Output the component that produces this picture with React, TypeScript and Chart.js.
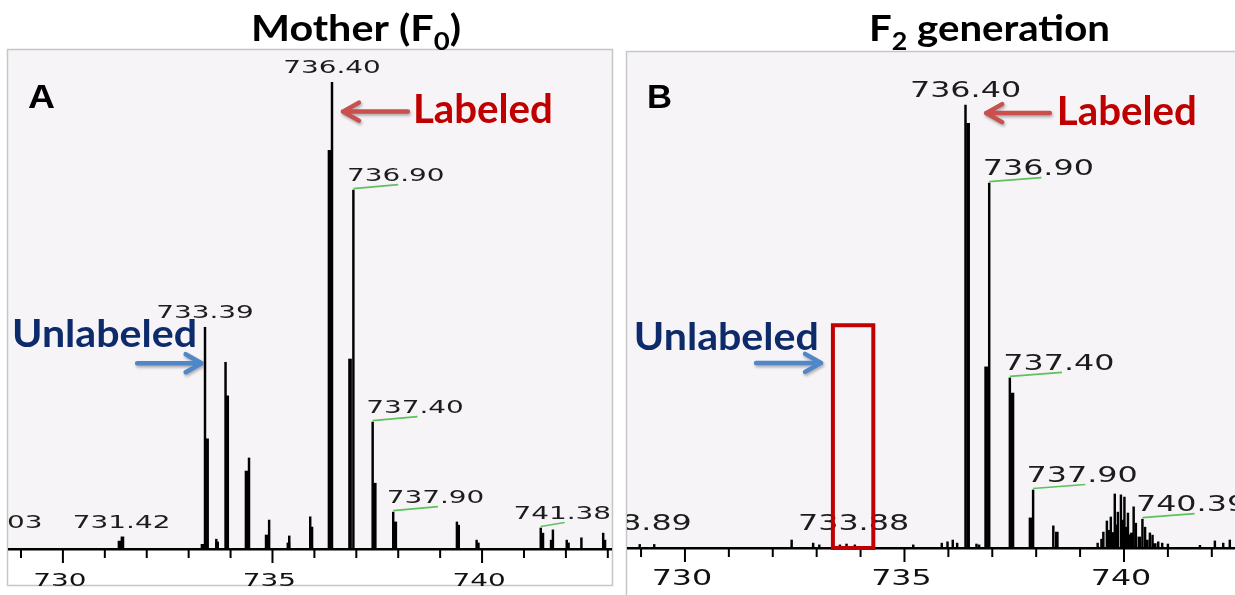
import React, { useEffect, useRef } from "react";
import { Chart, registerables } from "chart.js";
Chart.register(...registerables);

// ---------------- data: panel A (Mother, F0) ----------------
const A_MAIN_MZ = [733.39, 733.66, 733.88, 734.44, 734.92, 735.40, 735.90, 736.42, 736.93, 737.39, 737.88, 739.40, 739.87, 741.40, 741.69, 742.02, 742.37, 742.89];
const A_MAIN_INT = [47.5, 2.1, 40.0, 19.5, 6.2, 2.8, 6.9, 100, 76.9, 27.2, 7.9, 5.8, 1.9, 4.5, 4.1, 1.9, 2.4, 3.4];
const A_SHOULDER_MZ = [731.35, 731.42, 733.33, 733.44, 733.68, 733.92, 734.38, 734.86, 735.38, 735.93, 736.36, 736.85, 737.44, 737.93, 739.43, 739.90, 741.44, 741.66, 742.05, 742.92];
const A_SHOULDER_INT = [1.7, 2.6, 1.0, 23.6, 1.5, 32.8, 16.7, 3.0, 1.3, 4.7, 85.4, 40.7, 14.1, 5.8, 5.1, 1.3, 3.4, 1.9, 1.3, 1.9];
const A_LABEL_TEXT = ["728.03", "731.42", "733.39", "736.40", "736.90", "737.40", "737.90", "741.38"];
const A_LABEL_MZ = [728.35, 731.40, 733.39, 736.42, 736.93, 737.39, 737.88, 741.40];
const A_LABEL_INT = [2.6, 2.6, 47.5, 100, 76.9, 27.2, 7.9, 4.5];
const A_LABEL_LEADER = [false, false, false, false, true, true, true, true];
const A_TICKS = [729, 730, 731, 732, 733, 734, 735, 736, 737, 738, 739, 740, 741, 742, 743];

// ---------------- data: panel B (F2 generation) ----------------
const B_MAIN_MZ = [728.97, 729.30, 732.43, 732.92, 733.06, 733.53, 733.68, 733.87, 735.20, 735.85, 735.98, 736.10, 736.20, 736.39, 736.64, 736.70, 736.93, 737.40, 737.93, 738.39, 739.40, 739.53, 739.61, 739.70, 739.79, 739.86, 739.93, 740.01, 740.09, 740.22, 740.27, 740.42, 740.48, 740.59, 740.65, 740.78, 740.87, 741.00, 741.73, 742.07, 742.26, 742.41];
const B_MAIN_INT = [0.8, 0.8, 1.8, 1.1, 0.7, 0.7, 0.9, 0.7, 0.7, 1.1, 1.4, 1.8, 1.1, 100, 0.9, 0.7, 82.4, 38.4, 13.1, 5.0, 1.1, 3.6, 6.1, 7.0, 12.2, 8.1, 12.0, 11.5, 7.9, 9.3, 5.6, 6.5, 4.7, 3.4, 2.9, 1.4, 1.1, 0.9, 0.6, 1.6, 1.1, 1.8];
const B_SHOULDER_MZ = [736.45, 736.86, 737.46, 737.87, 738.47, 739.50, 739.65, 739.75, 739.83, 739.97, 740.05, 740.14, 740.18, 740.35, 740.52, 740.70];
const B_SHOULDER_INT = [95.9, 40.9, 35.0, 6.8, 3.6, 2.0, 4.0, 3.5, 5.2, 6.3, 4.7, 3.0, 3.4, 2.5, 1.8, 1.0];
const B_LABEL_TEXT = ["728.89", "733.88", "736.40", "736.90", "737.40", "737.90", "740.39"];
const B_LABEL_MZ = [728.89, 733.84, 736.39, 736.93, 737.40, 737.93, 740.42];
const B_LABEL_INT = [2.2, 2.2, 100, 82.4, 38.4, 13.1, 6.5];
const B_LABEL_LEADER = [false, false, false, true, true, true, true];
const B_TICKS = [729, 730, 731, 732, 733, 734, 735, 736, 737, 738, 739, 740, 741, 742];
const B_BOX_MZ = [733.37, 734.29];
const B_BOX_INT = [0, 50.3];

const MAJOR_TICKS = [730, 735, 740];

const LABEL_FONT = '"DejaVu Sans", sans-serif';
const ANNOT_FONT = 'Lato, "Open Sans", sans-serif';

type Ann = {
  labeledTail: [number, number];
  labeledTip: [number, number];
  labeledText: [number, number];
  unlabeledTail: [number, number];
  unlabeledTip: [number, number];
  unlabeledText: [number, number];
};

type Panel = {
  id: string;
  left: number;
  width: number;
  pad: { left: number; right: number; top: number; bottom: number };
  xMin: number;
  xMax: number;
  yMax: number;
  mainMz: number[];
  mainInt: number[];
  shMz: number[];
  shInt: number[];
  labelText: string[];
  labelMz: number[];
  labelInt: number[];
  labelLeader: boolean[];
  ticks: number[];
  fontPx: number;
  gap: number;
  frameBottom: number;
  title: [string, boolean][];
  titleLeft: number;
  titleWidth: number;
  letter: string;
  letterWidth: number;
  ann: Ann;
  box?: { mz: number[]; int: number[] };
};

const PANEL_A: Panel = {
  id: "A",
  left: 0,
  width: 620,
  pad: { left: 8, right: 8, top: 50, bottom: 46 },
  xMin: 728.69,
  xMax: 743.1,
  yMax: 106.9,
  mainMz: A_MAIN_MZ,
  mainInt: A_MAIN_INT,
  shMz: A_SHOULDER_MZ,
  shInt: A_SHOULDER_INT,
  labelText: A_LABEL_TEXT,
  labelMz: A_LABEL_MZ,
  labelInt: A_LABEL_INT,
  labelLeader: A_LABEL_LEADER,
  ticks: A_TICKS,
  fontPx: 18,
  gap: 9,
  frameBottom: 586,
  title: [["Mother (F", false], ["0", true], [")", false]],
  titleLeft: 251,
  titleWidth: 210,
  letter: "A",
  letterWidth: 27,
  ann: {
    labeledTail: [738.23, 93.7],
    labeledTip: [736.68, 93.7],
    labeledText: [738.35, 91.2],
    unlabeledTail: [731.77, 39.8],
    unlabeledTip: [733.31, 39.8],
    unlabeledText: [733.2, 43.3],
  },
};

const PANEL_B: Panel = {
  id: "B",
  left: 620,
  width: 640,
  pad: { left: 7, right: 10, top: 52, bottom: 47 },
  xMin: 728.68,
  xMax: 742.87,
  yMax: 112,
  mainMz: B_MAIN_MZ,
  mainInt: B_MAIN_INT,
  shMz: B_SHOULDER_MZ,
  shInt: B_SHOULDER_INT,
  labelText: B_LABEL_TEXT,
  labelMz: B_LABEL_MZ,
  labelInt: B_LABEL_INT,
  labelLeader: B_LABEL_LEADER,
  ticks: B_TICKS,
  fontPx: 20.5,
  gap: 8,
  frameBottom: 620,
  title: [["F", false], ["2", true], [" generation", false]],
  titleLeft: 249,
  titleWidth: 241,
  letter: "B",
  letterWidth: 25,
  ann: {
    labeledTail: [738.31, 98.2],
    labeledTip: [736.86, 98.2],
    labeledText: [738.47, 95.5],
    unlabeledTail: [731.62, 41.8],
    unlabeledTip: [733.1, 41.8],
    unlabeledText: [733.05, 44.7],
  },
  box: { mz: B_BOX_MZ, int: B_BOX_INT },
};

const SX = 1.55;

function drawText(
  ctx: CanvasRenderingContext2D,
  text: string,
  x: number,
  y: number,
  font: string,
  color: string,
  opts: { sx?: number; width?: number; align?: "left" | "center" | "right" }
) {
  ctx.save();
  ctx.font = font;
  const nat = ctx.measureText(text).width;
  const sx = opts.width ? opts.width / nat : opts.sx ?? 1;
  const w = nat * sx;
  const align = opts.align ?? "left";
  const left = align === "center" ? x - w / 2 : align === "right" ? x - w : x;
  ctx.translate(left, y);
  ctx.scale(sx, 1);
  ctx.fillStyle = color;
  ctx.textAlign = "left";
  ctx.textBaseline = "alphabetic";
  ctx.fillText(text, 0, 0);
  ctx.restore();
  return w;
}

function drawArrow(ctx: CanvasRenderingContext2D, x1: number, y1: number, x2: number, y2: number, color: string) {
  ctx.save();
  ctx.strokeStyle = color;
  ctx.lineWidth = 4.5;
  ctx.lineCap = "round";
  ctx.lineJoin = "round";
  ctx.shadowColor = "rgba(0,0,0,0.3)";
  ctx.shadowBlur = 3;
  ctx.shadowOffsetX = 1;
  ctx.shadowOffsetY = 2;
  const dir = Math.sign(x2 - x1);
  ctx.beginPath();
  ctx.moveTo(x1, y1);
  ctx.lineTo(x2, y2);
  ctx.moveTo(x2 - dir * 16, y2 - 9);
  ctx.lineTo(x2, y2);
  ctx.lineTo(x2 - dir * 16, y2 + 9);
  ctx.stroke();
  ctx.restore();
}

function makePlugin(p: Panel) {
  return {
    id: "spectrum" + p.id,
    beforeDraw(chart: any) {
      const ctx: CanvasRenderingContext2D = chart.ctx;
      const a = chart.chartArea;
      ctx.save();
      ctx.fillStyle = "#ffffff";
      ctx.fillRect(0, 0, chart.width, chart.height);
      ctx.fillStyle = "#f6f4f7";
      ctx.fillRect(a.left, a.top, a.right - a.left, a.bottom - a.top);
      ctx.strokeStyle = "#c6c6c6";
      ctx.lineWidth = 1.5;
      ctx.strokeRect(a.left - 0.5, a.top - 0.5, a.right - a.left + 1, p.frameBottom - a.top);
      ctx.restore();
    },
    afterDatasetsDraw(chart: any) {
      const ctx: CanvasRenderingContext2D = chart.ctx;
      const a = chart.chartArea;
      const xs = chart.scales.x;
      const ys = chart.scales.y;
      const y0 = ys.getPixelForValue(0);
      const labelFont = `${p.fontPx}px ${LABEL_FONT}`;

      // axis line & ticks
      ctx.save();
      ctx.fillStyle = "#000";
      ctx.fillRect(a.left, y0 - 1, a.right - a.left, 2.5);
      for (const t of p.ticks) {
        const px = xs.getPixelForValue(t);
        const major = MAJOR_TICKS.includes(t);
        ctx.fillRect(px - 1, y0, 2, major ? 14 : 9);
      }
      ctx.restore();
      for (const t of MAJOR_TICKS) {
        const px = xs.getPixelForValue(t);
        drawText(ctx, String(t), px - 3, y0 + 36.5, labelFont, "#111", { sx: SX, align: "center" });
      }

      // peak labels
      ctx.save();
      ctx.beginPath();
      ctx.rect(a.left, 0, a.right - a.left, a.bottom);
      ctx.clip();
      p.labelText.forEach((text, i) => {
        const px = xs.getPixelForValue(p.labelMz[i]);
        const py = ys.getPixelForValue(p.labelInt[i]);
        if (!p.labelLeader[i]) {
          drawText(ctx, text, px, py - p.gap, labelFont, "#1c1c1c", { sx: SX, align: "center" });
        } else {
          ctx.font = labelFont;
          const w = ctx.measureText(text).width * SX;
          const intW = ctx.measureText(text.split(".")[0]).width * SX;
          let left = px - 6.5;
          if (left + w > a.right - 1) left = a.right - 1 - w;
          drawText(ctx, text, left, py - p.gap, labelFont, "#1c1c1c", { sx: SX, align: "left" });
          ctx.save();
          ctx.strokeStyle = "#5cc25c";
          ctx.lineWidth = 1.7;
          ctx.beginPath();
          ctx.moveTo(px, py - 1.5);
          ctx.lineTo(left + intW - 2, py - 5.5);
          ctx.stroke();
          ctx.restore();
        }
      });
      ctx.restore();

      // highlight box
      if (p.box) {
        const bx1 = xs.getPixelForValue(p.box.mz[0]);
        const bx2 = xs.getPixelForValue(p.box.mz[1]);
        const by1 = ys.getPixelForValue(p.box.int[1]);
        const by2 = ys.getPixelForValue(p.box.int[0]);
        ctx.save();
        ctx.strokeStyle = "#c00000";
        ctx.lineWidth = 4;
        ctx.strokeRect(bx1, by1, bx2 - bx1, by2 - by1);
        ctx.restore();
      }

      // annotations
      const an = p.ann;
      const P = (v: [number, number]) => [xs.getPixelForValue(v[0]), ys.getPixelForValue(v[1])];
      const [lt1, lt2] = P(an.labeledTail);
      const [lp1, lp2] = P(an.labeledTip);
      drawArrow(ctx, lt1, lt2, lp1, lp2, "#c9504d");
      const [lx, ly] = P(an.labeledText);
      drawText(ctx, "Labeled", lx, ly, `bold 41px ${ANNOT_FONT}`, "#c00000", { width: 140, align: "left" });
      const [ut1, ut2] = P(an.unlabeledTail);
      const [up1, up2] = P(an.unlabeledTip);
      drawArrow(ctx, ut1, ut2, up1, up2, "#4f87c8");
      const [ux, uy] = P(an.unlabeledText);
      drawText(ctx, "Unlabeled", ux, uy, `bold 38px ${ANNOT_FONT}`, "#0d2a6b", { width: 185, align: "right" });

      // panel letter
      drawText(ctx, p.letter, a.left + 20, 108, `bold 34px "Liberation Sans", Arial, sans-serif`, "#000", {
        width: p.letterWidth,
        align: "left",
      });

      // title with subscript
      ctx.save();
      const mainF = `bold 36px ${ANNOT_FONT}`;
      const subF = `bold 24px ${ANNOT_FONT}`;
      let nat = 0;
      for (const [t, s] of p.title) {
        ctx.font = s ? subF : mainF;
        nat += ctx.measureText(t).width;
      }
      const sx = p.titleWidth / nat;
      ctx.translate(p.titleLeft, 41);
      ctx.scale(sx, 1);
      ctx.fillStyle = "#000";
      ctx.textBaseline = "alphabetic";
      let cx = 0;
      for (const [t, s] of p.title) {
        ctx.font = s ? subF : mainF;
        ctx.fillText(t, cx, s ? 9 : 0);
        cx += ctx.measureText(t).width;
      }
      ctx.restore();
    },
  };
}

function SpectrumPanel({ p }: { p: Panel }) {
  const ref = useRef<HTMLCanvasElement | null>(null);
  useEffect(() => {
    if (!ref.current) return;
    const chart = new Chart(ref.current, {
      type: "bar",
      data: {
        datasets: [
          {
            data: p.mainMz.map((x, i) => ({ x, y: p.mainInt[i] })),
            backgroundColor: "#000",
            borderWidth: 0,
            barThickness: 1.8,
            grouped: false,
          } as any,
          {
            data: p.shMz.map((x, i) => ({ x, y: p.shInt[i] })),
            backgroundColor: "#000",
            borderWidth: 0,
            barThickness: 3,
            grouped: false,
          } as any,
        ],
      },
      options: {
        responsive: false,
        animation: false,
        devicePixelRatio: 1,
        layout: { padding: p.pad },
        scales: {
          x: { type: "linear", min: p.xMin, max: p.xMax, display: false, offset: false },
          y: { min: 0, max: p.yMax, display: false },
        },
        plugins: { legend: { display: false }, tooltip: { enabled: false }, title: { display: false } },
      } as any,
      plugins: [makePlugin(p)],
    });
    return () => chart.destroy();
  }, [p]);
  return (
    <canvas
      ref={ref}
      width={p.width}
      height={595}
      style={{ position: "absolute", left: p.left, top: 0, width: p.width, height: 595 }}
    />
  );
}

export default function App() {
  return (
    <div
      style={{
        position: "fixed",
        left: 0,
        top: 0,
        width: 1235,
        height: 595,
        overflow: "hidden",
        background: "#fff",
      }}
    >
      <SpectrumPanel p={PANEL_A} />
      <SpectrumPanel p={PANEL_B} />
    </div>
  );
}
